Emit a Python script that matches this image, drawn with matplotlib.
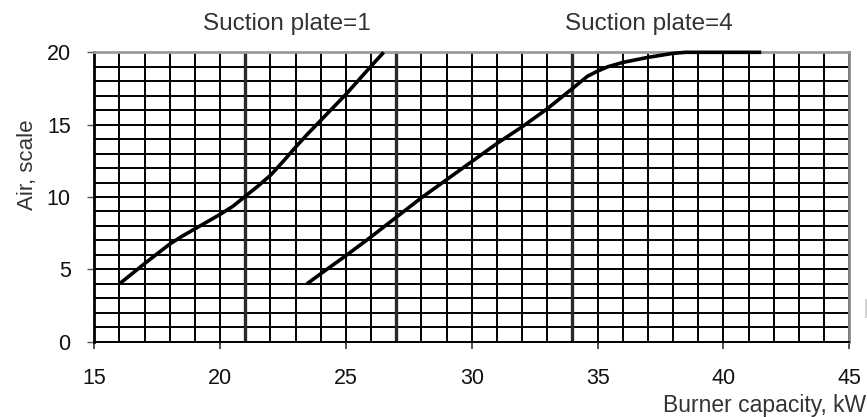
import matplotlib
matplotlib.use("Agg")
import matplotlib.pyplot as plt
from matplotlib.lines import Line2D

# Air setting vs burner capacity for two suction plates
plate1_x = [16.0, 17.0, 18.0, 18.5, 19.0, 20.0, 20.5, 21.0, 21.5, 22.0, 22.5, 23.0,
            23.5, 24.0, 25.0, 26.0, 26.5]
plate1_y = [4.0, 5.4, 6.75, 7.3, 7.8, 8.8, 9.35, 10.05, 10.75, 11.5, 12.45, 13.45,
            14.4, 15.3, 17.1, 19.05, 20.0]

plate4_x = [23.45, 24.0, 25.0, 26.0, 27.0, 28.0, 29.0, 30.0, 31.0, 32.0, 33.0, 34.0,
            34.6, 35.0, 35.4, 36.0, 37.0, 38.0, 38.5, 41.5]
plate4_y = [4.0, 4.7, 5.95, 7.25, 8.6, 9.95, 11.2, 12.45, 13.7, 14.85, 16.1, 17.5,
            18.35, 18.7, 19.0, 19.3, 19.65, 19.93, 20.0, 20.0]

x_ticks = [15, 20, 25, 30, 35, 40, 45]
y_ticks = [0, 5, 10, 15, 20]
divider_x = [21, 27, 34]

series_titles = ["Suction plate=1", "Suction plate=4"]
x_label = "Burner capacity, kW"
y_label = "Air, scale"

W, H = 867, 417
plt.rcParams["font.family"] = ["Liberation Sans", "DejaVu Sans"]

fig = plt.figure(figsize=(W / 100, H / 100), dpi=100)
ax = fig.add_axes([94.3 / W, 1 - 341.7 / H, (849.3 - 94.3) / W, (341.7 - 52.3) / H])

ax.set_xlim(15, 45)
ax.set_ylim(0, 20)

# fine 1x1 grid
ax.set_xticks(x_ticks)
ax.set_yticks(y_ticks)
ax.set_xticks(range(15, 46), minor=True)
ax.set_yticks(range(0, 21), minor=True)
ax.grid(which="both", color="black", linewidth=1.4)
ax.tick_params(which="minor", length=0)
ax.tick_params(axis="x", which="major", length=5, width=1.2, color="#333333",
               pad=14, labelsize=15.5, labelcolor="#111111")
ax.tick_params(axis="y", which="major", length=5, width=1.0, color="#555555",
               pad=12, labelsize=15.5, labelcolor="#111111")

for xv in divider_x:
    ax.axvline(xv, color="#2a2a2a", linewidth=2.4, zorder=2.5)

ax.spines["left"].set_color("black")
ax.spines["left"].set_linewidth(2.0)
ax.spines["bottom"].set_color("black")
ax.spines["bottom"].set_linewidth(1.4)
ax.spines["top"].set_color("#9a9a9a")
ax.spines["top"].set_linewidth(2.0)
ax.spines["right"].set_color("#8a8a8a")
ax.spines["right"].set_linewidth(2.0)

ax.plot(plate1_x, plate1_y, color="black", linewidth=2.6,
        solid_joinstyle="round", solid_capstyle="butt", clip_on=False, zorder=4)
ax.plot(plate4_x, plate4_y, color="black", linewidth=2.6,
        solid_joinstyle="round", solid_capstyle="butt", clip_on=False, zorder=4)

fig.text(287 / W, 1 - 24 / H, series_titles[0], ha="center", va="center",
         fontsize=17.5, color="#333333")
fig.text(649 / W, 1 - 24 / H, series_titles[1], ha="center", va="center",
         fontsize=17.5, color="#333333")

fig.text(866 / W, 1 - 412 / H, x_label, ha="right", va="baseline",
         fontsize=16.5, color="#333333")
fig.text(27.5 / W, 1 - 165 / H, y_label, ha="center", va="center",
         rotation=90, fontsize=16, color="#333333")

# small mark at the right edge
fig.add_artist(Line2D([865.5 / W, 865.5 / W], [1 - 300 / H, 1 - 317 / H],
                      color="#d2d2d2", linewidth=1.4))

fig.savefig("out.png", dpi=100)
